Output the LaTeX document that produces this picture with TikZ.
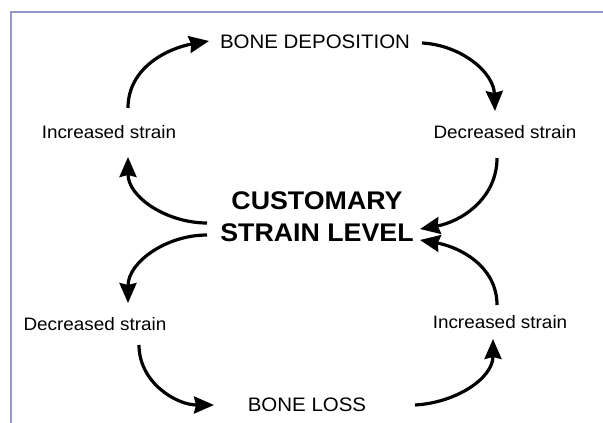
\documentclass[tikz,border=0pt]{standalone}
\usepackage{fontspec}
\setmainfont{Liberation Sans}[FakeStretch=1.05]
\usetikzlibrary{arrows.meta,calc}
\definecolor{frameblue}{RGB}{150,150,205}
\tikzset{
  caplab/.style={inner sep=0pt,font=\fontsize{19.5}{22}\selectfont},
  smlab/.style={inner sep=0pt,font=\fontsize{18}{20}\selectfont},
  biglab/.style={inner sep=0pt,align=center,font=\fontsize{25.5}{32}\selectfont\bfseries},
  flow/.style={line width=3.2pt,-{Stealth[length=20pt,width=17pt,inset=2pt]}},
}
\begin{document}
\begin{tikzpicture}[x=1pt,y=-1pt]
\useasboundingbox (0,0) rectangle (603,423);
\draw[frameblue,line width=2pt] (11,423) -- (11,12) -- (603,12);

\node[caplab] (dep)   at (315,42)  {BONE DEPOSITION};
\node[smlab]  (incTL) at (109,132) {Increased strain};
\node[smlab]  (decTR) at (505,132) {Decreased strain};
\node[biglab] (csl)   at (317,217) {CUSTOMARY\\STRAIN LEVEL};
\node[smlab]  (decBL) at (95,324)  {Decreased strain};
\node[smlab]  (incBR) at (500,322) {Increased strain};
\node[caplab] (loss)  at (307,405) {BONE LOSS};

% top half
\draw[flow] ($(incTL)+(19,-24)$) to[out=90,in=190] ($(dep)+(-106,-1)$);
\draw[flow] ($(dep)+(107,1)$) to[out=-3,in=92] ($(decTR)+(-10,-21)$);
\draw[flow] ($(decTR)+(-8,26)$) to[out=-90,in=10] ($(csl)+(103,12)$);
\draw[flow] ($(csl)+(-110,6)$) to[out=180,in=-90] ($(incTL)+(19,25)$);
% bottom half
\draw[flow] ($(csl)+(-110,18)$) to[out=180,in=90] ($(decBL)+(33,-21)$);
\draw[flow] ($(decBL)+(44,21)$) to[out=-90,in=180] ($(loss)+(-93,0)$);
\draw[flow] ($(loss)+(108,0)$) to[out=3,in=-90] ($(incBR)+(-7,17)$);
\draw[flow] ($(incBR)+(-3,-17)$) to[out=90,in=-10] ($(csl)+(103,23)$);
\end{tikzpicture}
\end{document}
